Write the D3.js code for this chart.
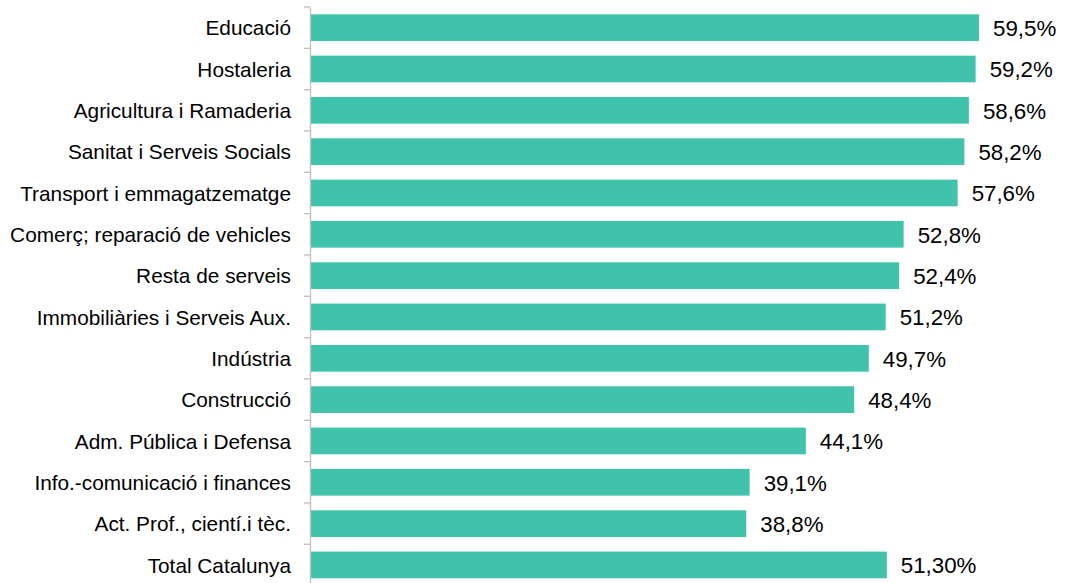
<!DOCTYPE html>
<html><head><meta charset="utf-8">
<script src="https://cdn.jsdelivr.net/npm/d3@7"></script>
<style>body{margin:0;background:#fff}svg{display:block}</style>
</head><body><svg id="c" width="1065" height="583"></svg>
<script>
const categories = ["Educació","Hostaleria","Agricultura i Ramaderia","Sanitat i Serveis Socials","Transport i emmagatzematge","Comerç; reparació de vehicles","Resta de serveis","Immobiliàries i Serveis Aux.","Indústria","Construcció","Adm. Pública i Defensa","Info.-comunicació i finances","Act. Prof., cientí.i tèc.","Total Catalunya"];
const values = [59.5,59.2,58.6,58.2,57.6,52.8,52.4,51.2,49.7,48.4,44.1,39.1,38.8,51.3];
const valueLabels = ["59,5%","59,2%","58,6%","58,2%","57,6%","52,8%","52,4%","51,2%","49,7%","48,4%","44,1%","39,1%","38,8%","51,30%"];

const svg = d3.select("#c");
const x0 = 310, yTop = 7, step = 41.33;
const x = d3.scaleLinear().domain([0, 59.5]).range([x0, 979]);
const y = d3.scaleBand().domain(categories).range([yTop, yTop + step*categories.length]).paddingInner(0.354).paddingOuter(0.177);

svg.append("g").selectAll("rect").data(values).join("rect")
  .attr("x", x(0)).attr("y", (d,i)=>y(categories[i]))
  .attr("width", d=>x(d)-x(0)).attr("height", y.bandwidth())
  .attr("fill", "#41C3AB");

svg.append("g").selectAll("text").data(values).join("text")
  .attr("x", d=>x(d)+14).attr("y", (d,i)=>y(categories[i])+y.bandwidth()/2)
  .attr("dy","0.37em")
  .attr("font-family","Liberation Sans, Arial, sans-serif").attr("font-size","22.3px").attr("fill","#000")
  .text((d,i)=>valueLabels[i]);

const ax = svg.append("g").attr("transform",`translate(${x0},0)`)
  .call(d3.axisLeft(y).tickSize(0).tickPadding(19));
ax.select(".domain").attr("stroke","#BFBFBF").attr("stroke-width",1.3);
ax.selectAll("text").attr("font-family","Liberation Sans, Arial, sans-serif").attr("font-size","20.8px").attr("fill","#000").attr("dy","0.37em");

const bounds = d3.range(categories.length+1).map(i=>y.range()[0]+i*y.step());
svg.append("g").selectAll("line").data(bounds).join("line")
  .attr("x1", x0-6).attr("x2", x0).attr("y1", d=>d).attr("y2", d=>d)
  .attr("stroke","#BFBFBF").attr("stroke-width",1.3);
</script></body></html>
